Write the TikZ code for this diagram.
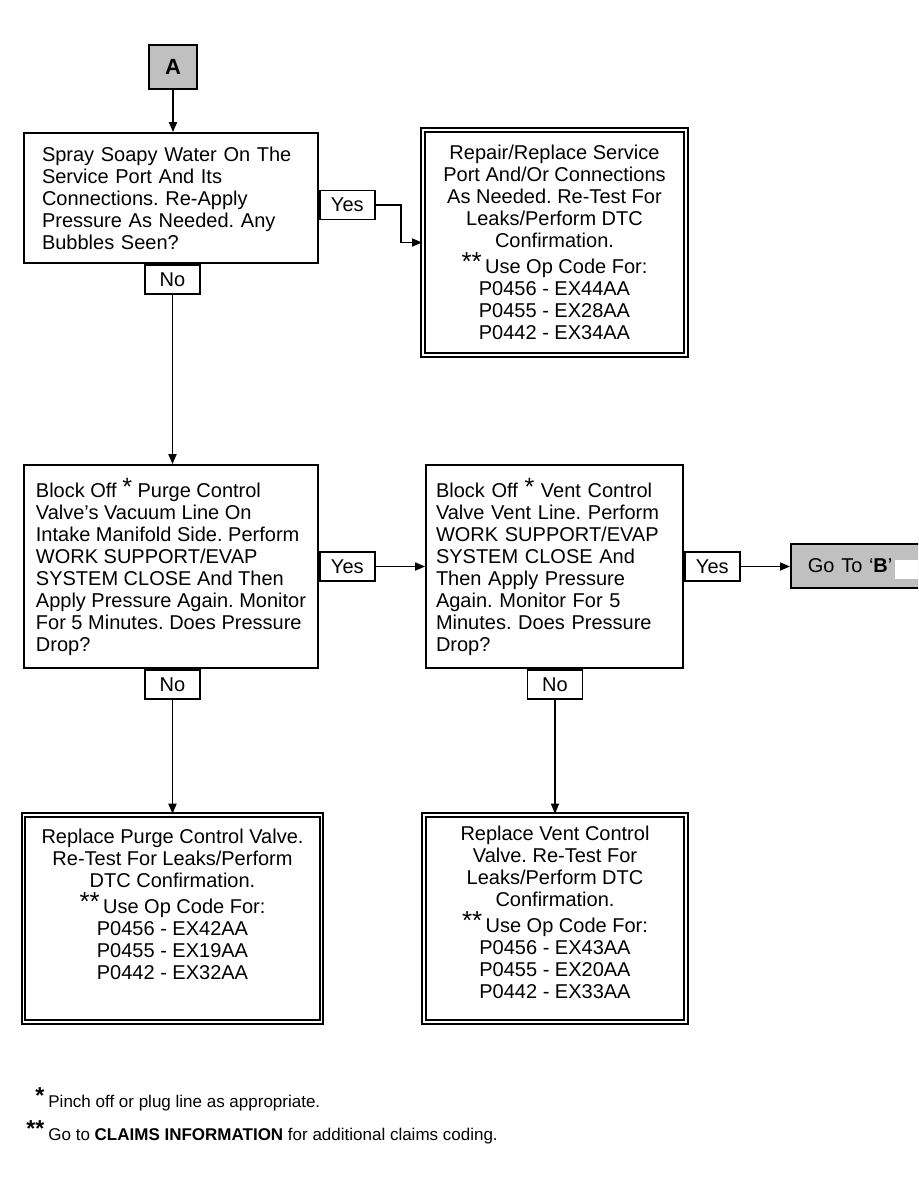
\documentclass[tikz,border=0pt]{standalone}
\usepackage{fontspec}
\setmainfont{Liberation Sans}
\usetikzlibrary{arrows.meta,positioning}
\definecolor{jumpgray}{HTML}{C0C0C0}
\tikzset{
    block/.style = {draw, rectangle, line width=0.9pt, inner sep=0pt, fill=white, font=\fontsize{10}{11}\selectfont},
    query/.style = {block, align=left, minimum height=101.5pt},
    fix/.style = {block, align=center, double, line width=1pt, double distance=0.8pt},
    answer/.style = {block, minimum width=27.5pt, minimum height=14.5pt},
    jump/.style = {block, fill=jumpgray},
    note/.style = {inner sep=0pt, font=\fontsize{8.5}{10}\selectfont},
    line/.style = {line width=0.85pt, -{Triangle[length=5pt,width=4pt]}},
}
\newcommand{\st}{\raisebox{1pt}{\fontsize{12.5}{12}\selectfont *}}
\newcommand{\dst}{\raisebox{1.5pt}{\fontsize{13}{12}\selectfont **}\,}
\frenchspacing

\begin{document}
\begin{tikzpicture}[x=0.5pt, y=-0.5pt, node distance=0pt]
    \useasboundingbox (0,0) rectangle (918,1188);
    \clip (0,0) rectangle (918,1188);

    % Entry point
    \node[jump, minimum width=24pt, minimum height=22pt, font=\fontsize{11}{13}\selectfont\bfseries] (start) at (173,67) {A};

    % Soapy water check
    \node[query, minimum width=147pt, minimum height=65pt, text width=129pt] (q1) at (171,198)
        {Spray Soapy Water On The\\Service Port And Its\\Connections. Re-Apply\\Pressure As Needed. Any\\Bubbles Seen?};
    \node[answer, right=of q1, yshift=-3.5pt] (yes1) {Yes};
    \node[answer, below=of q1, xshift=0.75pt] (no1) {No};
    \node[fix, minimum width=131.5pt, minimum height=112.5pt] (r1) at (554.5,242.5)
        {Repair/Replace Service\\Port And/Or Connections\\As Needed. Re-Test For\\Leaks/Perform DTC\\Confirmation.\\[2pt]
         \dst Use Op Code For:\\P0456 - EX44AA\\P0455 - EX28AA\\P0442 - EX34AA};

    % Purge valve check
    \node[query, minimum width=147pt] (q2) at (171,566.5)
        {Block Off \st{} Purge Control\\Valve's Vacuum Line On\\Intake Manifold Side. Perform\\WORK SUPPORT/EVAP\\SYSTEM CLOSE And Then\\Apply Pressure Again. Monitor\\For 5 Minutes. Does Pressure\\Drop?};
    \node[answer, right=of q2] (yes2) {Yes};
    \node[answer, below=of q2, xshift=0.75pt] (no2) {No};
    \node[fix, minimum width=149pt, minimum height=103.5pt, below=57pt of no2] (r2)
        {Replace Purge Control Valve.\\Re-Test For Leaks/Perform\\DTC Confirmation.\\[2pt]
         \dst Use Op Code For:\\P0456 - EX42AA\\P0455 - EX19AA\\P0442 - EX32AA\\[3pt]\mbox{}};

    % Vent valve check
    \node[query, minimum width=128.5pt, text width=118.5pt] (q3) at (554.5,566.5)
        {Block Off \st{} Vent Control\\Valve Vent Line. Perform\\WORK SUPPORT/EVAP\\SYSTEM CLOSE And\\Then Apply Pressure\\Again. Monitor For 5\\Minutes. Does Pressure\\Drop?};
    \node[answer, right=of q3] (yes3) {Yes};
    \node[answer, below=of q3, xshift=0.25pt] (no3) {No};
    \node[fix, minimum width=131pt, minimum height=103.5pt, below=57pt of no3] (r3)
        {Replace Vent Control\\Valve. Re-Test For\\Leaks/Perform DTC\\Confirmation.\\[2pt]
         \dst Use Op Code For:\\P0456 - EX43AA\\P0455 - EX20AA\\P0442 - EX33AA\\[-5pt]\mbox{}};
    \node[jump, anchor=west, minimum width=85pt, minimum height=22pt, text width=68pt, align=left] (goto) at (790,566)
        {Go To `\textbf{B}'};
    \fill[white] (895,560) rectangle (925,579);

    % Connections
    \draw[line] (start.south) -- (start.south |- q1.north);
    \draw[line] (yes1.east) -- ++(25,0) |- (r1.west);
    \draw[line] (no1.south) -- (no1.south |- q2.north);
    \draw[line] (yes2.east) -- (yes2.east -| q3.west);
    \draw[line] (yes3.east) -- (yes3.east -| goto.west);
    \draw[line] (no2.south) -- (no2.south |- r2.north);
    \draw[line] (no3.south) -- (no3.south |- r3.north);

    % Footnotes
    \node[note, anchor=base west] (fn1) at (48,1107)
        {\llap{\raisebox{2pt}{\fontsize{11.5}{12}\selectfont\textbf{*}}\hspace{2pt}}Pinch off or plug line as appropriate.};
    \node[note, anchor=base west] (fn2) at (48,1140)
        {\llap{\raisebox{2pt}{\fontsize{11.5}{12}\selectfont\textbf{**}}\hspace{2pt}}Go to \textbf{CLAIMS INFORMATION} for additional claims coding.};
\end{tikzpicture}
\end{document}
